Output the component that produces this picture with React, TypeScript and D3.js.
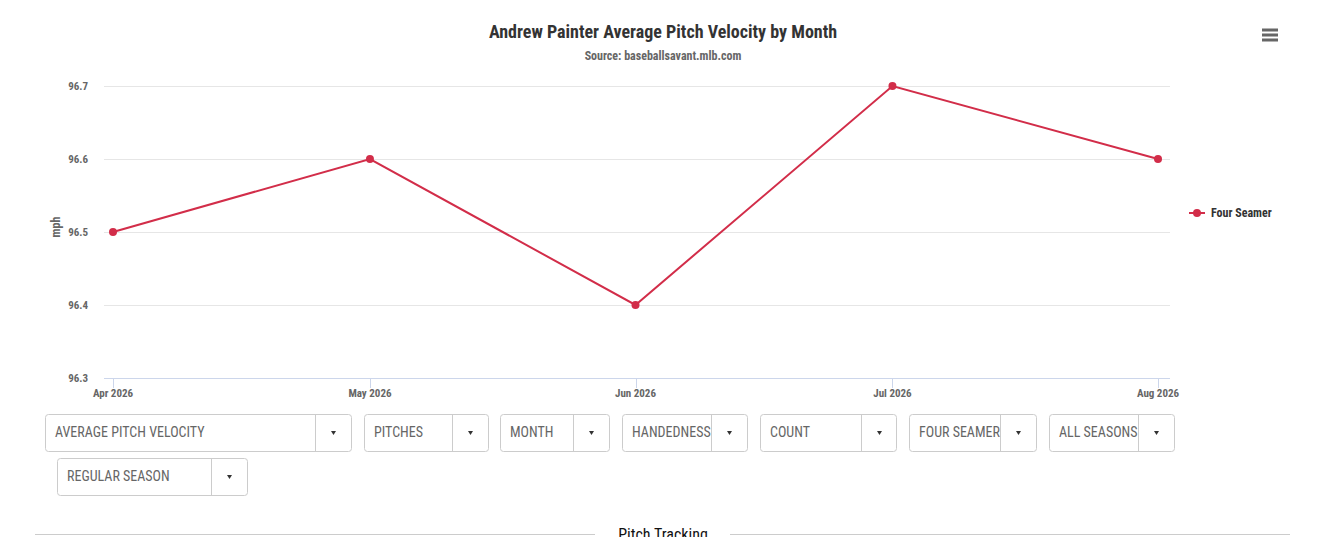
import React from "react";
import * as d3 from "d3";

const months = ["2026-04-01", "2026-05-01", "2026-06-01", "2026-07-01", "2026-08-01"];
const monthLabels = ["Apr 2026", "May 2026", "Jun 2026", "Jul 2026", "Aug 2026"];
const fourSeamer = [96.5, 96.6, 96.4, 96.7, 96.6];
const yTicks = [96.3, 96.4, 96.5, 96.6, 96.7];
const seriesName = "Four Seamer";

const dropdownRow1 = [
  { label: "AVERAGE PITCH VELOCITY", x: 45, w: 306, div: 270 },
  { label: "PITCHES", x: 364, w: 124, div: 88 },
  { label: "MONTH", x: 500, w: 109, div: 73 },
  { label: "HANDEDNESS", x: 622, w: 125, div: 89 },
  { label: "COUNT", x: 760, w: 136, div: 101 },
  { label: "FOUR SEAMER", x: 909, w: 127, div: 91 },
  { label: "ALL SEASONS", x: 1049, w: 125, div: 89 },
];
const dropdownRow2 = [{ label: "REGULAR SEASON", x: 57, w: 190, div: 154 }];

const FONT = "'Roboto Condensed', 'Liberation Sans Narrow', 'Arial Narrow', 'DejaVu Sans Condensed', Roboto, sans-serif";
const RED = "#d22d49";

export default function App() {
  const parse = d3.timeParse("%Y-%m-%d");
  const dates = months.map((m) => parse(m) as Date);
  const x = d3.scaleTime().domain([dates[0], dates[dates.length - 1]]).range([113, 1158]);
  const y = d3.scaleLinear().domain([96.3, 96.7]).range([378, 86]);
  const line = d3
    .line<number>()
    .x((_, i) => x(dates[i]))
    .y((d) => y(d));

  const dropdown = (d: { label: string; x: number; w: number; div: number }, top: number) => (
    <g key={d.label + top}>
      <rect x={d.x + 0.5} y={top + 0.5} width={d.w} height={37} rx={3} fill="#fff" stroke="#ccc" />
      <line x1={d.x + d.div + 0.5} x2={d.x + d.div + 0.5} y1={top + 0.5} y2={top + 37.5} stroke="#ccc" />
      <text x={d.x + 10} y={top + 23} fontSize={14} fill="#666" fontFamily={FONT}>
        {d.label}
      </text>
      <path
        d={`M${d.x + d.div + 16},${top + 17} h5 l-2.5,4 z`}
        fill="#333"
      />
    </g>
  );

  return (
    <svg
      width={1332}
      height={537}
      style={{ position: "absolute", left: 0, top: 0, background: "#fff" }}
      fontFamily={FONT}
    >
      <text x={663} y={38} textAnchor="middle" fontSize={18} fontWeight="bold" fill="#333">
        Andrew Painter Average Pitch Velocity by Month
      </text>
      <text x={663} y={60} textAnchor="middle" fontSize={12} fontWeight="bold" fill="#666">
        Source: baseballsavant.mlb.com
      </text>

      {/* hamburger */}
      {[30, 35, 40].map((yy) => (
        <rect key={yy} x={1262} y={yy - 1.5} width={16} height={3} fill="#666" />
      ))}

      {/* gridlines */}
      {yTicks.slice(1).map((t) => (
        <line key={t} x1={104} x2={1170} y1={y(t) + 0.5} y2={y(t) + 0.5} stroke="#e6e6e6" />
      ))}
      {yTicks.map((t) => (
        <text key={"l" + t} x={88} y={y(t) + 4} textAnchor="end" fontSize={11} fontWeight="bold" fill="#666">
          {t.toFixed(1)}
        </text>
      ))}
      <text
        transform={`translate(60,${y(96.5) - 5}) rotate(-90)`}
        textAnchor="middle"
        fontSize={12}
        fontWeight="bold"
        fill="#666"
      >
        mph
      </text>

      {/* x axis */}
      <line x1={104} x2={1170} y1={378.5} y2={378.5} stroke="#ccd6eb" />
      {dates.map((d, i) => (
        <g key={months[i]}>
          <line x1={Math.round(x(d)) + 0.5} x2={Math.round(x(d)) + 0.5} y1={378} y2={388} stroke="#ccd6eb" />
          <text x={x(d)} y={397} textAnchor="middle" fontSize={11} fontWeight="bold" fill="#666">
            {monthLabels[i]}
          </text>
        </g>
      ))}

      {/* series */}
      <path d={line(fourSeamer) || ""} fill="none" stroke={RED} strokeWidth={2} />
      {fourSeamer.map((v, i) => (
        <circle key={i} cx={x(dates[i])} cy={y(v)} r={4} fill={RED} />
      ))}

      {/* legend */}
      <line x1={1189} x2={1205} y1={213} y2={213} stroke={RED} strokeWidth={2} />
      <circle cx={1197} cy={213} r={4} fill={RED} />
      <text x={1211} y={217} fontSize={12} fontWeight="bold" fill="#333">
        {seriesName}
      </text>

      {/* dropdowns */}
      {dropdownRow1.map((d) => dropdown(d, 414))}
      {dropdownRow2.map((d) => dropdown(d, 458))}

      {/* section divider */}
      <line x1={35} x2={595} y1={534.5} y2={534.5} stroke="#ccc" />
      <line x1={730} x2={1290} y1={534.5} y2={534.5} stroke="#ccc" />
      <text x={663} y={540} textAnchor="middle" fontSize={16} fill="#111">
        Pitch Tracking
      </text>
    </svg>
  );
}
